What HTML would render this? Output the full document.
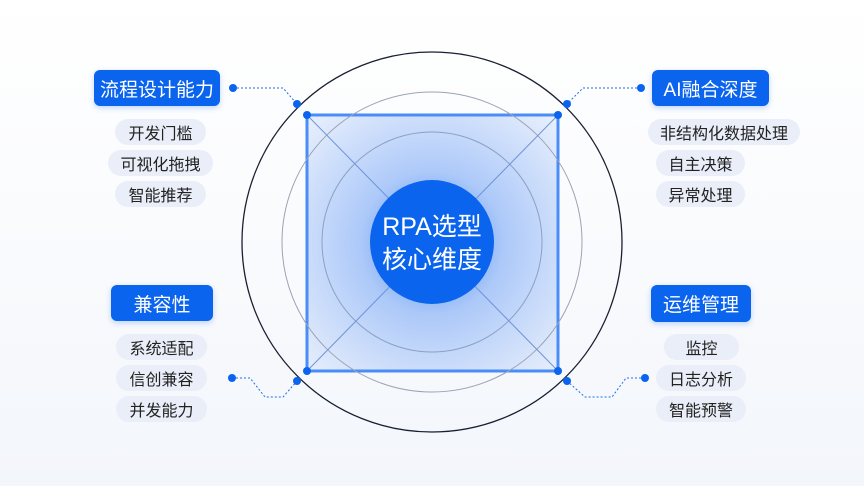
<!DOCTYPE html>
<html><head><meta charset="utf-8"><style>
body{margin:0;width:864px;height:486px;overflow:hidden;background:linear-gradient(180deg,#ffffff 0%,#f3f6fb 100%);font-family:"Liberation Sans","Noto Sans CJK SC",sans-serif;position:relative}
.h{position:absolute;background:#0a64ee;color:#fff;font-size:19px;border-radius:6px;display:flex;align-items:center;justify-content:center;box-shadow:0 2px 6px rgba(10,100,238,.25)}
.p{position:absolute;background:#e9eef8;color:#222;font-size:16px;border-radius:13px;display:flex;align-items:center;justify-content:center;height:26px}
svg{position:absolute;left:0;top:0}
</style></head><body>
<svg width="864" height="486">
<defs>
<radialGradient id="g" cx="432" cy="243" r="180" gradientUnits="userSpaceOnUse">
<stop offset="0" stop-color="#1f6ff3" stop-opacity=".95"/><stop offset=".4" stop-color="#7aa8f6" stop-opacity=".6"/><stop offset="1" stop-color="#dce7fb" stop-opacity=".55"/></radialGradient>
</defs>
<circle cx="432" cy="242" r="190" fill="none" stroke="#1a1f33" stroke-width="1.3"/>
<rect x="307" y="115" width="251" height="256" fill="url(#g)" stroke="#4b8df7" stroke-width="3"/>
<circle cx="432" cy="242" r="150" fill="none" stroke="#9aa3b5" stroke-width="1"/>
<circle cx="432" cy="242" r="110" fill="none" stroke="#8aa0c8" stroke-width="1"/>
<line x1="307" y1="115" x2="558" y2="371" stroke="#6f94d8" stroke-width="1"/>
<line x1="558" y1="115" x2="307" y2="371" stroke="#6f94d8" stroke-width="1"/>
<circle cx="432" cy="242" r="62" fill="#0a64ee"/>
<text x="432" y="235" fill="#fff" font-size="25" text-anchor="middle" font-family="Liberation Sans,Noto Sans CJK SC,sans-serif">RPA选型</text>
<text x="432" y="268" fill="#fff" font-size="25" text-anchor="middle" font-family="Liberation Sans,Noto Sans CJK SC,sans-serif">核心维度</text>
<g fill="none" stroke="#1e6ff0" stroke-width="1" stroke-dasharray="2,2">
<polyline points="233,88 283,88 297,104"/>
<polyline points="641,88 583,88 567,104"/>
<polyline points="232,378 250,378 265,397 283,397 297,381"/>
<polyline points="645,378 626,378 612,397 585,397 567,381"/>
</g>
<g fill="#0a64ee">
<circle cx="233" cy="88" r="4"/><circle cx="641" cy="88" r="4"/><circle cx="232" cy="378" r="4"/><circle cx="645" cy="378" r="4"/>
<circle cx="297" cy="104" r="4"/><circle cx="567" cy="104" r="4"/><circle cx="297" cy="381" r="4"/><circle cx="567" cy="381" r="4"/>
<circle cx="307" cy="115" r="4"/><circle cx="558" cy="115" r="4"/><circle cx="307" cy="371" r="4"/><circle cx="558" cy="371" r="4"/>
</g>
</svg>
<div class="h" style="left:94px;top:70px;width:126px;height:36px">流程设计能力</div>
<div class="h" style="left:652px;top:70px;width:117px;height:36px">AI融合深度</div>
<div class="h" style="left:111px;top:285px;width:102px;height:36px">兼容性</div>
<div class="h" style="left:651px;top:285px;width:100px;height:37px">运维管理</div>
<div class="p" style="left:115px;top:119px;width:91px">开发门槛</div>
<div class="p" style="left:108px;top:150px;width:105px">可视化拖拽</div>
<div class="p" style="left:115px;top:181px;width:91px">智能推荐</div>
<div class="p" style="left:648px;top:119px;width:152px">非结构化数据处理</div>
<div class="p" style="left:656px;top:150px;width:89px">自主决策</div>
<div class="p" style="left:656px;top:181px;width:89px">异常处理</div>
<div class="p" style="left:116px;top:334px;width:91px">系统适配</div>
<div class="p" style="left:116px;top:365px;width:91px">信创兼容</div>
<div class="p" style="left:116px;top:396px;width:91px">并发能力</div>
<div class="p" style="left:664px;top:334px;width:75px">监控</div>
<div class="p" style="left:656px;top:365px;width:90px">日志分析</div>
<div class="p" style="left:656px;top:396px;width:90px">智能预警</div>
</body></html>
